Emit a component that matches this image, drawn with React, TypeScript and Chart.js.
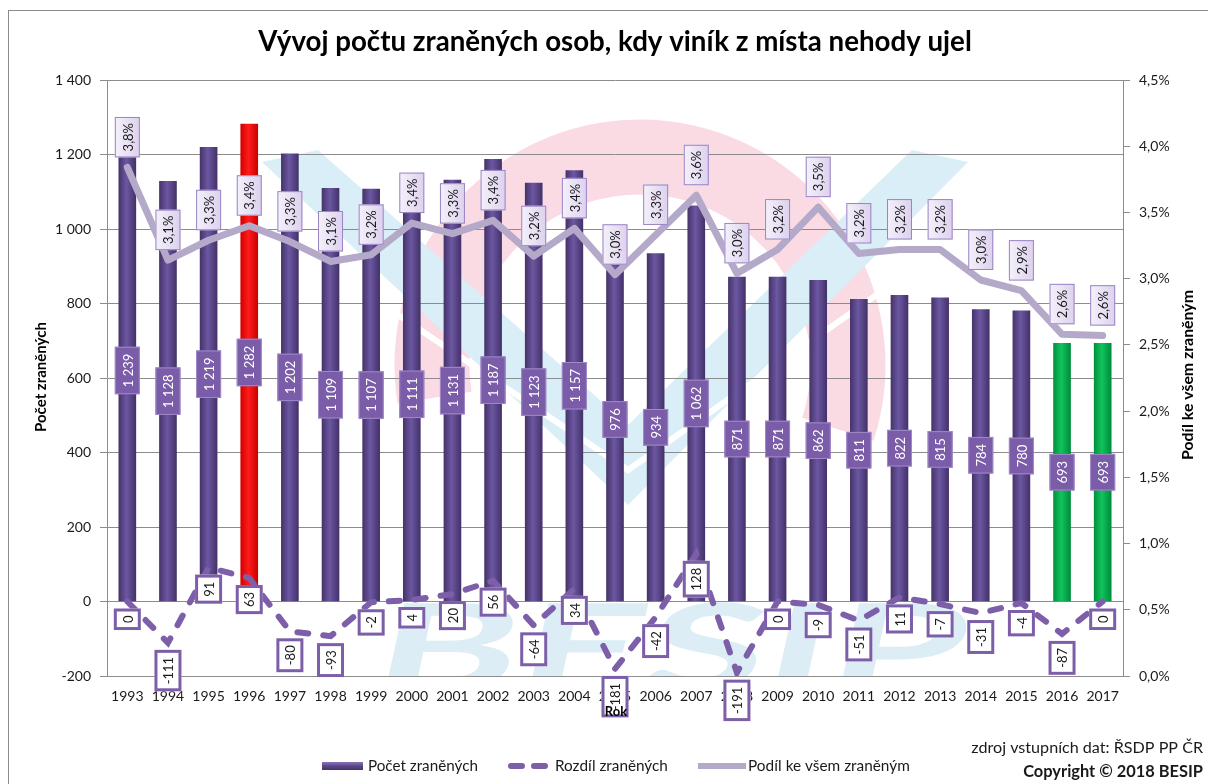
import React, { useEffect, useRef } from "react";
import { Chart, registerables } from "chart.js";

Chart.register(...registerables);

// ---------- DATA ----------
const years = ["1993", "1994", "1995", "1996", "1997", "1998", "1999", "2000", "2001", "2002", "2003", "2004", "2005", "2006", "2007", "2008", "2009", "2010", "2011", "2012", "2013", "2014", "2015", "2016", "2017"];
const injured = [1239, 1128, 1219, 1282, 1202, 1109, 1107, 1111, 1131, 1187, 1123, 1157, 976, 934, 1062, 871, 871, 862, 811, 822, 815, 784, 780, 693, 693];
const difference = [0, -111, 91, 63, -80, -93, -2, 4, 20, 56, -64, 34, -181, -42, 128, -191, 0, -9, -51, 11, -7, -31, -4, -87, 0];
const sharePct = [3.84, 3.14, 3.29, 3.4, 3.28, 3.13, 3.18, 3.42, 3.34, 3.44, 3.17, 3.38, 3.03, 3.33, 3.63, 3.04, 3.22, 3.54, 3.19, 3.22, 3.22, 2.99, 2.91, 2.58, 2.57];
const redYears = ["1996"];
const greenYears = ["2016", "2017"];
const leftTicks = { min: -200, max: 1400, step: 200 };
const rightTicks = { min: 0, max: 4.5, step: 0.5 };

const titleText = "Vývoj počtu zraněných osob, kdy viník z místa nehody ujel";
const yTitle = "Počet zraněných";
const y1Title = "Podíl ke všem zraněným";
const xTitle = "Rok";
const seriesNames = ["Počet zraněných", "Rozdíl zraněných", "Podíl ke všem zraněným"];
const sourceText = "zdroj vstupních dat: ŘSDP PP ČR";
const copyrightText = "Copyright © 2018 BESIP";
const watermarkText = "BESIP";

// ---------- STYLE ----------
const FONT = "Lato, 'Open Sans', sans-serif";
const W = 1208;
const H = 784;
const PURPLE_LINE = "#7c5fa8";
const SHARE_LINE = "#b5a9ca";
const GRID = "#8c8c8c";

const fmtNum = (v: number) => {
  const s = Math.abs(Math.round(v)).toString().replace(/\B(?=(\d{3})+(?!\d))/g, " ");
  return (v < 0 ? "-" : "") + s;
};
const fmtPct = (v: number) => v.toFixed(1).replace(".", ",") + "%";

function barStops(year: string): [string, string, string] {
  if (redYears.includes(year)) return ["#d40000", "#ff1c1c", "#cc0000"];
  if (greenYears.includes(year)) return ["#00923f", "#10c45c", "#008c3c"];
  return ["#46346a", "#6c57a2", "#44326a"];
}

function fitSize(ctx: CanvasRenderingContext2D, text: string, weight: string, target: number) {
  ctx.font = `${weight} 20px ${FONT}`;
  const w = ctx.measureText(text).width;
  return (20 * target) / w;
}

type BoxStyle = { font: string; pad: number; w: number; fill: string | CanvasGradient; stroke?: string; lw?: number; color: string };

function rotBox(ctx: CanvasRenderingContext2D, cx: number, ay: number, anchor: "center" | "top" | "bottom", text: string, s: BoxStyle) {
  ctx.font = s.font;
  const tw = ctx.measureText(text).width;
  const h = tw + 2 * s.pad;
  const w = s.w;
  const top = anchor === "center" ? ay - h / 2 : anchor === "top" ? ay : ay - h;
  const left = cx - w / 2;
  ctx.fillStyle = s.fill;
  ctx.fillRect(left, top, w, h);
  if (s.lw && s.stroke) {
    ctx.lineWidth = s.lw;
    ctx.strokeStyle = s.stroke;
    ctx.strokeRect(left + s.lw / 2, top + s.lw / 2, w - s.lw, h - s.lw);
  }
  ctx.save();
  ctx.translate(cx, top + h / 2);
  ctx.rotate(-Math.PI / 2);
  ctx.fillStyle = s.color;
  ctx.textAlign = "center";
  ctx.textBaseline = "middle";
  ctx.fillText(text, 0, 1);
  ctx.restore();
}

const backgroundPlugin = {
  id: "bgWatermark",
  beforeDraw(chart: any) {
    const { ctx, chartArea: a } = chart;
    ctx.save();
    ctx.fillStyle = "#ffffff";
    ctx.fillRect(0, 0, W, H);
    ctx.strokeStyle = "#8c8c8c";
    ctx.lineWidth = 1;
    ctx.strokeRect(8.5, 10.5, W + 10, H + 10);
    // faint logo watermark inside the plot area
    ctx.beginPath();
    ctx.rect(a.left, a.top, a.right - a.left, a.bottom - a.top);
    ctx.clip();
    ctx.strokeStyle = "#fadbe4";
    ctx.lineWidth = 75;
    ctx.beginPath();
    ctx.arc(640, 365, 208, Math.PI * 0.95, Math.PI * 2.1);
    ctx.stroke();
    ctx.fillStyle = "#daeef7";
    ctx.beginPath();
    ctx.moveTo(262, 162);
    ctx.lineTo(318, 150);
    ctx.lineTo(628, 425);
    ctx.lineTo(628, 505);
    ctx.closePath();
    ctx.fill();
    ctx.beginPath();
    ctx.moveTo(968, 162);
    ctx.lineTo(912, 150);
    ctx.lineTo(628, 425);
    ctx.lineTo(628, 505);
    ctx.closePath();
    ctx.fill();
    // white stripes across wings
    ctx.strokeStyle = "#ffffff";
    ctx.lineWidth = 6;
    ctx.beginPath();
    ctx.moveTo(250, 215);
    ctx.lineTo(628, 470);
    ctx.lineTo(990, 215);
    ctx.stroke();
    // watermark letters
    ctx.fillStyle = "#dcedf6";
    ctx.font = `bold 120px ${FONT}`;
    const tw = ctx.measureText(watermarkText).width;
    ctx.translate(368, 690);
    ctx.scale(590 / tw, 1);
    ctx.transform(1, 0, -0.12, 1, 0, 0);
    ctx.textAlign = "left";
    ctx.textBaseline = "alphabetic";
    ctx.fillText(watermarkText, 0, 0);
    ctx.restore();
  },
};

const labelsPlugin = {
  id: "dataLabels",
  afterDatasetsDraw(chart: any) {
    const ctx: CanvasRenderingContext2D = chart.ctx;
    const pctMeta = chart.getDatasetMeta(0);
    const diffMeta = chart.getDatasetMeta(1);
    const barMeta = chart.getDatasetMeta(2);
    ctx.save();
    barMeta.data.forEach((el: any, i: number) => {
      rotBox(ctx, el.x, (el.y + el.base) / 2, "center", fmtNum(injured[i]), {
        font: `13px ${FONT}`,
        pad: 7,
        w: 25,
        fill: "#7a5ca8",
        stroke: "#a08bc8",
        lw: 1,
        color: "#ffffff",
      });
    });
    pctMeta.data.forEach((el: any, i: number) => {
      const g = ctx.createLinearGradient(el.x - 12, 0, el.x + 12, 0);
      g.addColorStop(0, "#f4f0fa");
      g.addColorStop(1, "#ddd2ee");
      rotBox(ctx, el.x, el.y - 10, "bottom", fmtPct(sharePct[i]), {
        font: `13px ${FONT}`,
        pad: 6,
        w: 25,
        fill: g,
        stroke: "#9a84c4",
        lw: 1,
        color: "#1a1a1a",
      });
    });
    diffMeta.data.forEach((el: any, i: number) => {
      rotBox(ctx, el.x, el.y + 7, "top", fmtNum(difference[i]), {
        font: `13px ${FONT}`,
        pad: 7,
        w: 27,
        fill: "#ffffff",
        stroke: PURPLE_LINE,
        lw: 3,
        color: "#1a1a1a",
      });
    });
    ctx.restore();
  },
};

const textPlugin = {
  id: "texts",
  afterDraw(chart: any) {
    const ctx: CanvasRenderingContext2D = chart.ctx;
    ctx.save();
    ctx.fillStyle = "#000000";
    ctx.textAlign = "center";
    ctx.textBaseline = "middle";
    // title
    let s = fitSize(ctx, titleText, "bold", 714);
    ctx.font = `bold ${s}px ${FONT}`;
    ctx.fillText(titleText, 615, 42);
    // axis titles
    s = fitSize(ctx, yTitle, "bold", 110);
    ctx.font = `bold ${s}px ${FONT}`;
    ctx.save();
    ctx.translate(41, 377);
    ctx.rotate(-Math.PI / 2);
    ctx.fillText(yTitle, 0, 0);
    ctx.restore();
    s = fitSize(ctx, y1Title, "bold", 170);
    ctx.font = `bold ${s}px ${FONT}`;
    ctx.save();
    ctx.translate(1188, 375);
    ctx.rotate(-Math.PI / 2);
    ctx.fillText(y1Title, 0, 0);
    ctx.restore();
    ctx.font = `bold 13px ${FONT}`;
    ctx.fillText(xTitle, 616, 712);

    // legend
    const ly = 766;
    const g = ctx.createLinearGradient(0, ly - 4, 0, ly + 4);
    g.addColorStop(0, "#8a74b8");
    g.addColorStop(0.5, "#5b4788");
    g.addColorStop(1, "#46346a");
    ctx.fillStyle = g;
    ctx.fillRect(322, ly - 4, 41, 8);
    ctx.strokeStyle = PURPLE_LINE;
    ctx.lineWidth = 6;
    ctx.lineCap = "round";
    ctx.beginPath();
    ctx.moveTo(511, ly);
    ctx.lineTo(522, ly);
    ctx.moveTo(534, ly);
    ctx.lineTo(545, ly);
    ctx.stroke();
    ctx.strokeStyle = SHARE_LINE;
    ctx.lineWidth = 6;
    ctx.lineCap = "butt";
    ctx.beginPath();
    ctx.moveTo(698, ly);
    ctx.lineTo(746, ly);
    ctx.stroke();
    ctx.fillStyle = "#1a1a1a";
    ctx.textAlign = "left";
    const legendX = [368, 555, 748];
    const legendW = [110, 113, 162];
    seriesNames.forEach((name, i) => {
      const fs = fitSize(ctx, name, "normal", legendW[i]);
      ctx.font = `${fs}px ${FONT}`;
      ctx.fillText(name, legendX[i], ly);
    });

    // source / copyright
    ctx.textAlign = "right";
    s = fitSize(ctx, sourceText, "normal", 232);
    ctx.font = `${s}px ${FONT}`;
    ctx.fillText(sourceText, 1203, 748);
    s = fitSize(ctx, copyrightText, "bold", 180);
    ctx.font = `bold ${s}px ${FONT}`;
    ctx.fillText(copyrightText, 1203, 772);
    ctx.restore();
  },
};

export default function App() {
  const ref = useRef<HTMLCanvasElement | null>(null);

  useEffect(() => {
    if (!ref.current) return;
    const tickFont = { family: FONT, size: 14 };
    const chart = new Chart(ref.current, {
      type: "bar",
      data: {
        labels: years,
        datasets: [
          {
            type: "line",
            label: seriesNames[2],
            data: sharePct,
            yAxisID: "y1",
            borderColor: SHARE_LINE,
            borderWidth: 7,
            pointRadius: 0,
            tension: 0,
            borderJoinStyle: "round",
            borderCapStyle: "round",
            order: 1,
          } as any,
          {
            type: "line",
            label: seriesNames[1],
            data: difference,
            yAxisID: "y",
            borderColor: PURPLE_LINE,
            borderWidth: 6,
            borderDash: [11, 15],
            borderCapStyle: "round",
            pointRadius: 0,
            tension: 0,
            order: 2,
          } as any,
          {
            type: "bar",
            label: seriesNames[0],
            data: injured,
            yAxisID: "y",
            barThickness: 17,
            order: 3,
            backgroundColor: (c: any) => {
              const chart = c.chart;
              const i = c.dataIndex;
              const stops = barStops(years[i] ?? "");
              if (i == null || !chart.chartArea) return stops[1];
              const x = chart.scales.x.getPixelForValue(i);
              const gr = chart.ctx.createLinearGradient(x - 8.5, 0, x + 8.5, 0);
              gr.addColorStop(0, stops[0]);
              gr.addColorStop(0.45, stops[1]);
              gr.addColorStop(1, stops[2]);
              return gr;
            },
          } as any,
        ],
      },
      options: {
        animation: false,
        responsive: false,
        maintainAspectRatio: false,
        layout: { padding: { top: 80, left: 0, right: 0, bottom: 0 } },
        plugins: {
          legend: { display: false },
          tooltip: { enabled: false },
          title: { display: false },
        },
        scales: {
          x: {
            grid: { display: true, drawOnChartArea: false, drawTicks: false },
            border: { display: true, color: GRID },
            ticks: { font: tickFont, color: "#1a1a1a", padding: 12, maxRotation: 0, autoSkip: false },
            afterFit: (s: any) => {
              s.height = H - 676;
            },
          },
          y: {
            position: "left",
            min: leftTicks.min,
            max: leftTicks.max,
            ticks: { stepSize: leftTicks.step, callback: (v: any) => fmtNum(Number(v)), padding: 9, font: tickFont, color: "#1a1a1a" },
            grid: { color: GRID, tickLength: 7 },
            border: { display: true, color: GRID },
            afterFit: (s: any) => {
              s.width = 107;
            },
          },
          y1: {
            position: "right",
            min: rightTicks.min,
            max: rightTicks.max,
            ticks: { stepSize: rightTicks.step, callback: (v: any) => fmtPct(Number(v)), padding: 9, font: tickFont, color: "#1a1a1a" },
            grid: { drawOnChartArea: false, color: GRID, tickLength: 7 },
            border: { display: true, color: GRID },
            afterFit: (s: any) => {
              s.width = W - 1123;
            },
          },
        },
      } as any,
      plugins: [backgroundPlugin, labelsPlugin, textPlugin],
    });
    return () => chart.destroy();
  }, []);

  return (
    <canvas
      ref={ref}
      width={W}
      height={H}
      style={{ position: "absolute", left: 0, top: 0, width: W, height: H, display: "block" }}
    />
  );
}
